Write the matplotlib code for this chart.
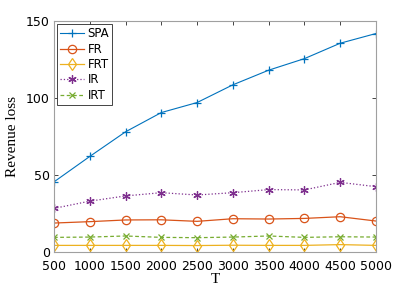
import matplotlib.pyplot as plt

# data
T = [500, 1000, 1500, 2000, 2500, 3000, 3500, 4000, 4500, 5000]
spa = [45.5, 62, 78, 90.5, 97, 108.5, 118, 125.5, 135.5, 141.8]
fr = [18.8, 19.7, 20.8, 20.9, 19.9, 21.6, 21.4, 21.8, 22.9, 20.1]
frt = [4.3, 4.3, 4.3, 4.3, 4.2, 4.4, 4.3, 4.3, 4.8, 4.3]
ir = [28.3, 33.0, 36.4, 38.5, 37.0, 38.5, 40.5, 40.3, 45.2, 42.4]
irt = [9.5, 9.7, 10.4, 9.5, 9.3, 9.7, 10.4, 9.5, 9.9, 9.7]

labels = ['SPA', 'FR', 'FRT', 'IR', 'IRT']

fig = plt.figure(figsize=(4.15, 2.9), dpi=100)
ax = fig.add_axes([0.130, 0.131, 0.776, 0.797])

ax.plot(T, spa, color='#0072BD', lw=0.8, marker='+', ms=6, mew=0.9, label=labels[0])
ax.plot(T, fr, color='#D95319', lw=0.9, marker='o', ms=6, mfc='none', mew=0.9, label=labels[1])
ax.plot(T, frt, color='#EDB120', lw=0.9, marker='d', ms=6, mfc='none', mew=0.9, label=labels[2])
ax.plot(T, ir, color='#7E2F8E', lw=0.9, ls=':', marker=(6, 2, 0), ms=6, mew=0.9, label=labels[3])
ax.plot(T, irt, color='#77AC30', lw=0.9, ls='--', dashes=(3, 2), marker='x', ms=4.5, mew=0.9, label=labels[4])

ax.set_xlim(500, 5000)
ax.set_ylim(0, 150)
ax.set_xticks(T)
ax.set_yticks([0, 50, 100, 150])
ax.tick_params(direction='in', length=3, width=0.6, color='#262626', labelsize=9,
               top=True, right=True, pad=3)
ax.tick_params(axis='x', pad=6)
for s in ax.spines.values():
    s.set_color('#a0a0a0')
    s.set_linewidth(0.8)

ax.set_xlabel('T', family='Liberation Serif', fontsize=11, labelpad=0)
ax.set_ylabel('Revenue loss', family='Liberation Serif', fontsize=11, labelpad=5)

leg = ax.legend(loc='upper left', fontsize=8.5, frameon=True, fancybox=False,
                edgecolor='#262626', framealpha=1, borderpad=0.25, labelspacing=0.2,
                handlelength=2.0, handletextpad=0.3, borderaxespad=0.3)
leg.get_frame().set_linewidth(0.6)

fig.savefig('out.png', dpi=100)
